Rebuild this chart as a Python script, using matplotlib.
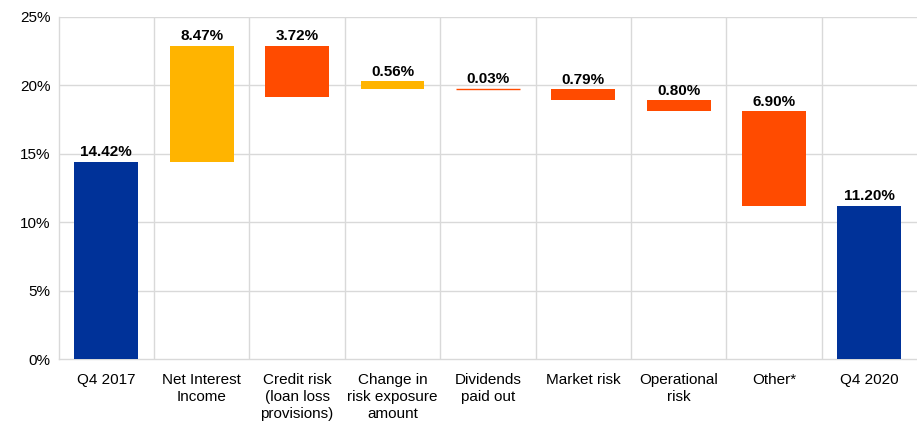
import numpy as np
import matplotlib.pyplot as plt

plt.rcParams.update({
    "font.family": ["Liberation Sans", "DejaVu Sans"],
    "font.size": 11,
})

NAVY = "#003299"
YELLOW = "#FFB400"
ORANGE = "#FF4B00"
GRID = "#d9d9d9"

categories = ["Q4 2017", "Net Interest\nIncome", "Credit risk\n(loan loss\nprovisions)",
              "Change in\nrisk exposure\namount", "Dividends\npaid out", "Market risk",
              "Operational\nrisk", "Other*", "Q4 2020"]
start_value = 14.42
changes = [8.47, -3.72, 0.56, -0.03, -0.79, -0.80, -6.90]
end_value = 11.20
labels = ["14.42%", "8.47%", "3.72%", "0.56%", "0.03%", "0.79%", "0.80%", "6.90%", "11.20%"]
change_colors = [YELLOW, ORANGE, YELLOW, ORANGE, ORANGE, ORANGE, ORANGE]
# the source chart draws the risk-exposure step upward from the new level
drawn_from_new_level = [False, False, True, False, False, False, False]

bottoms, heights, colors = [0], [start_value], [NAVY]
level = start_value
for c, col, flag in zip(changes, change_colors, drawn_from_new_level):
    new = level + c
    if flag:
        bottoms.append(new)
    else:
        bottoms.append(min(level, new))
    heights.append(abs(c))
    colors.append(col)
    level = new
bottoms.append(0)
heights.append(end_value)
colors.append(NAVY)

fig = plt.figure(figsize=(9.17, 4.24), dpi=100)
ax = fig.add_axes([0.064, 0.153, 0.936, 0.807])

x = np.arange(len(categories))
ax.bar(x, heights, bottom=bottoms, width=0.67, color=colors, zorder=3)
# thin change (dividends) drawn as a line
i_div = 4
ax.hlines(bottoms[i_div] + heights[i_div], i_div - 0.335, i_div + 0.335,
          color=ORANGE, lw=1, zorder=4)

for xi, b, h, lab in zip(x, bottoms, heights, labels):
    ax.text(xi, b + h + 0.2, lab, ha="center", va="bottom",
            fontsize=11, fontweight="bold", color="black", zorder=5)

ax.set_xlim(-0.5, len(categories) - 0.5)
ax.set_ylim(0, 25)
ax.set_yticks(np.arange(0, 26, 5))
ax.set_yticklabels([f"{v}%" for v in range(0, 26, 5)])
ax.set_xticks(x)
ax.set_xticklabels(categories, va="top", linespacing=1.25)
ax.tick_params(axis="both", length=0, labelsize=11, colors="black")
ax.tick_params(axis="x", pad=10)
ax.tick_params(axis="y", pad=6)

for yv in range(5, 26, 5):
    ax.axhline(yv, color=GRID, lw=1, zorder=1)
for xv in np.arange(0.5, len(categories) - 0.5, 1):
    ax.axvline(xv, color=GRID, lw=1, zorder=1)

for s in ["top", "right"]:
    ax.spines[s].set_visible(False)
for s in ["left", "bottom"]:
    ax.spines[s].set_color(GRID)
    ax.spines[s].set_linewidth(1)

fig.savefig("out.png", dpi=100)
